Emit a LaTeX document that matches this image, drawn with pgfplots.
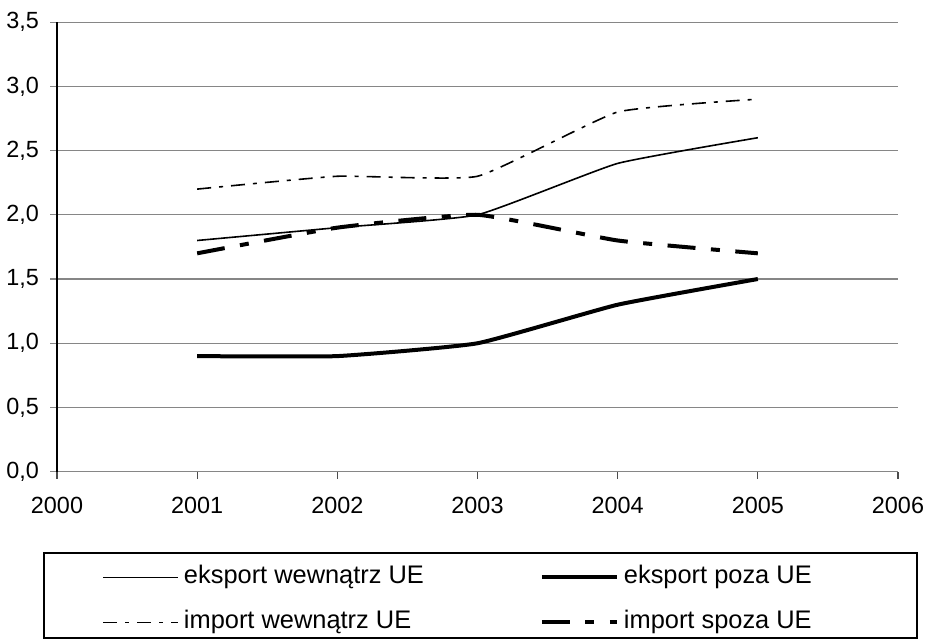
\documentclass[border=0pt]{standalone}
\usepackage{fontspec}
\setmainfont{Liberation Sans}
\usepackage{pgfplots}
\pgfplotsset{compat=1.18}
\definecolor{gridgray}{RGB}{134,134,134}
\begin{document}
\begin{tikzpicture}[x=1pt,y=1pt]
\path[use as bounding box] (-28.5,-83.6) rectangle (436,235.85);
\begin{axis}[
  scale only axis, width=420.5pt, height=224.8pt,
  at={(0,0)}, anchor=south west,
  xmin=2000, xmax=2006, ymin=0, ymax=3.5,
  xtick={2000,2001,2002,2003,2004,2005,2006},
  ytick={0,0.5,1,1.5,2,2.5,3,3.5},
  axis x line*=bottom, axis y line*=left,
  x axis line style={gridgray, line width=0.6pt, -},
  y axis line style={black, line width=0.6pt, -},
  ymajorgrids, major grid style={gridgray, line width=0.6pt},
  tick align=outside, major tick length=3.5pt,
  xtick style={black!70, line width=0.6pt},
  ytick style={gridgray, line width=0.6pt},
  /pgf/number format/assume math mode=true,
  ticklabel style={font=\fontsize{11.7}{14}\selectfont},
  yticklabel style={xshift=-2pt, /pgf/number format/.cd, fixed, fixed zerofill, precision=1, use comma},
  xticklabel style={yshift=-5.5pt, /pgf/number format/1000 sep={}},
  clip=false,
  legend columns=2,
  legend image code/.code={\draw[#1] (0pt,0pt) -- (37.5pt,0pt);},
  legend style={at={(0.0535,-0.2075)}, anchor=north west, draw=none, fill=none,
    inner sep=0pt, font=\fontsize{12.7}{15}\selectfont,
    nodes={inner sep=0pt, text height=9pt, text depth=3pt},
    row sep=10.5pt,
    /tikz/every odd column/.append style={column sep=2.5pt},
    /tikz/every even column/.append style={column sep=58pt}},
  legend cell align=left,
]
\addplot[black, line width=0.8pt, smooth, tension=0.25] coordinates {(2001,1.8) (2002,1.9) (2003,2.0) (2004,2.4) (2005,2.6)};
\addlegendentry{eksport wewnątrz UE}
\addplot[black, line width=2pt, smooth, tension=0.25] coordinates {(2001,0.9) (2002,0.9) (2003,1.0) (2004,1.3) (2005,1.5)};
\addlegendentry{eksport poza UE}
\addplot[black, line width=0.8pt, smooth, tension=0.25, dash pattern=on 7pt off 4pt on 2pt off 4pt] coordinates {(2001,2.2) (2002,2.3) (2003,2.3) (2004,2.8) (2005,2.9)};
\addlegendentry{import wewnątrz UE}
\addplot[black, line width=2pt, smooth, tension=0.25, dash pattern=on 14pt off 7.75pt on 4.5pt off 7.75pt] coordinates {(2001,1.7) (2002,1.9) (2003,2.0) (2004,1.8) (2005,1.7)};
\addlegendentry{import spoza UE}
\end{axis}
\draw[black, line width=0.8pt] (-6.5,-40.6) rectangle (430,-83.1);
\end{tikzpicture}
\end{document}
